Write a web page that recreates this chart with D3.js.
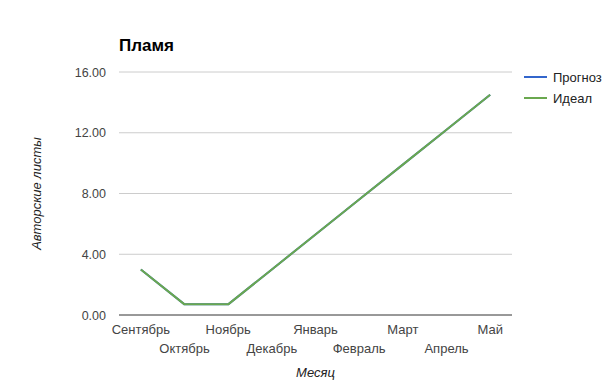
<!DOCTYPE html>
<html><head><meta charset="utf-8">
<script src="https://cdn.jsdelivr.net/npm/d3@7"></script>
<style>body{margin:0;background:#fff;} text{font-family:"Liberation Sans",Arial,sans-serif;}</style>
</head><body><svg id="c" width="605" height="391"></svg>
<script>
const months = ["Сентябрь","Октябрь","Ноябрь","Декабрь","Январь","Февраль","Март","Апрель","Май"];
const forecast = [3.0,0.7,0.7,3.0,5.3,7.6,9.9,12.2,14.5];
const ideal = [3.0,0.7,0.7,3.0,5.3,7.6,9.9,12.2,14.5];
const yTicks = [0,4,8,12,16];
const seriesNames = ["Прогноз","Идеал"];
const colors = ["#3366cc","#6aa84f"];

const svg = d3.select("#c");
const L=119,R=512,T=72,B=315;
const x = d3.scaleBand().domain(months).range([L,R]);
const y = d3.scaleLinear().domain([0,16]).range([B,T]);

svg.append("g").selectAll("line").data(yTicks.filter(d=>d>0)).join("line")
  .attr("x1",L).attr("x2",R).attr("y1",d=>y(d)).attr("y2",d=>y(d))
  .attr("stroke","#cccccc").attr("stroke-width",1);

svg.append("g").selectAll("text").data(yTicks).join("text")
  .attr("x",L-13).attr("y",d=>y(d)+4.5).attr("text-anchor","end")
  .attr("font-size",12.5).attr("fill","#444").text(d=>d3.format(".2f")(d));

svg.append("g").selectAll("text").data(months).join("text")
  .attr("x",d=>x(d)+x.bandwidth()/2).attr("y",(d,i)=>i%2===0?334:353)
  .attr("text-anchor","middle").attr("font-size",13).attr("fill","#444").text(d=>d);

const line = d3.line().x((d,i)=>x(months[i])+x.bandwidth()/2).y(d=>y(d));
[forecast,ideal].forEach((s,k)=>{
  svg.append("path").attr("d",line(s)).attr("fill","none")
    .attr("stroke",colors[k]).attr("stroke-width",2).attr("stroke-linejoin","round");
});

svg.append("line").attr("x1",L).attr("x2",R).attr("y1",B).attr("y2",B)
  .attr("stroke","#333").attr("stroke-width",1);

svg.append("text").attr("x",L).attr("y",51).attr("font-size",17).attr("font-weight","bold")
  .attr("fill","#000").text("Пламя");

svg.append("text").attr("x",(L+R)/2).attr("y",377).attr("text-anchor","middle")
  .attr("font-size",13).attr("font-style","italic").attr("fill","#222").text("Месяц");

svg.append("text").attr("transform","translate(41,"+((T+B)/2)+") rotate(-90)")
  .attr("text-anchor","middle").attr("font-size",13).attr("font-style","italic")
  .attr("fill","#222").text("Авторские листы");

seriesNames.forEach((n,k)=>{
  const yy = 77 + k*21;
  svg.append("line").attr("x1",524).attr("x2",547).attr("y1",yy).attr("y2",yy)
    .attr("stroke",colors[k]).attr("stroke-width",2);
  svg.append("text").attr("x",553).attr("y",yy+4.5).attr("font-size",13).attr("fill","#222").text(n);
});
</script></body></html>
